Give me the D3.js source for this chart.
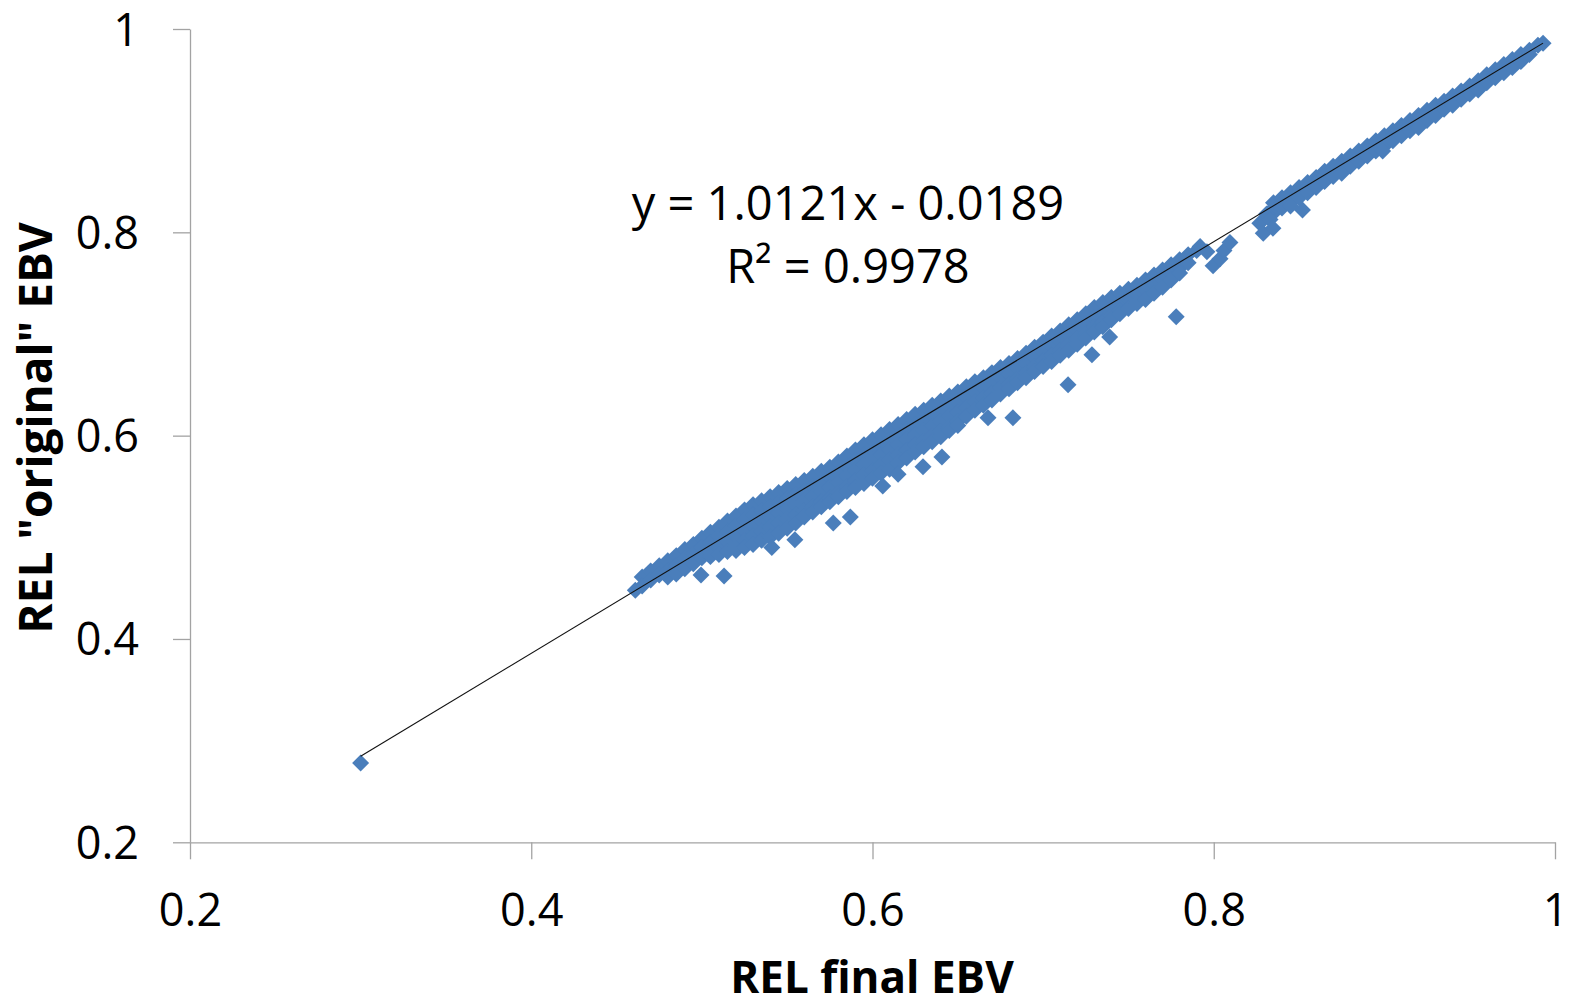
<!DOCTYPE html>
<html>
<head>
<meta charset="utf-8">
<script src="https://cdn.jsdelivr.net/npm/d3@7"></script>
<style>
  html, body { margin: 0; padding: 0; background: #ffffff; }
  svg { display: block; }
</style>
</head>
<body>
<svg id="chart" width="1577" height="1004"></svg>
<script>
// Axis ticks and titles
const tickValues = [0.2, 0.4, 0.6, 0.8, 1];
const tickLabels = ["0.2", "0.4", "0.6", "0.8", "1"];
const xTitle = "REL final EBV";
const yTitle = 'REL "original" EBV';

// Linear trend fitted to the cloud
const trendSlope = 1.0121;
const trendIntercept = -0.0189;
const equationLines = ["y = 1.0121x - 0.0189", "R\u00B2 = 0.9978"];

// Dense part of the cloud: final-EBV reliability and the original-EBV reliabilities seen at it
const bandFinal = [
  0.465, 0.470, 0.475, 0.480, 0.485, 0.490, 0.495, 0.500, 0.505, 0.510,
  0.515, 0.520, 0.525, 0.530, 0.535, 0.540, 0.545, 0.550, 0.555, 0.560,
  0.565, 0.570, 0.575, 0.580, 0.585, 0.590, 0.595, 0.600, 0.605, 0.610,
  0.615, 0.620, 0.625, 0.630, 0.635, 0.640, 0.645, 0.650, 0.655, 0.660,
  0.665, 0.670, 0.675, 0.680, 0.685, 0.690, 0.695, 0.700, 0.705, 0.710,
  0.715, 0.720, 0.725, 0.730, 0.735, 0.740, 0.745, 0.750, 0.755, 0.760,
  0.765, 0.770, 0.775, 0.780, 0.785, 0.790,
  0.835, 0.840, 0.845, 0.850, 0.855, 0.860, 0.865, 0.870, 0.875, 0.880,
  0.885, 0.890, 0.895, 0.900, 0.905, 0.910, 0.915, 0.920, 0.925, 0.930,
  0.935, 0.940, 0.945, 0.950, 0.955, 0.960, 0.965, 0.970, 0.975, 0.980,
  0.985, 0.990, 0.993
];
const bandOriginal = [
  [0.461, 0.452], [0.467, 0.458], [0.472, 0.463], [0.477, 0.467, 0.461],
  [0.482, 0.472, 0.464], [0.488, 0.479, 0.469], [0.493, 0.484, 0.474],
  [0.499, 0.490, 0.480], [0.505, 0.495, 0.485, 0.481], [0.510, 0.501, 0.491, 0.483],
  [0.516, 0.506, 0.496, 0.486], [0.521, 0.511, 0.501, 0.491, 0.487],
  [0.527, 0.517, 0.507, 0.497, 0.490], [0.532, 0.522, 0.511, 0.501, 0.493],
  [0.536, 0.526, 0.516, 0.506, 0.497], [0.540, 0.530, 0.520, 0.510, 0.500],
  [0.544, 0.534, 0.524, 0.514, 0.504], [0.548, 0.538, 0.528, 0.518, 0.509],
  [0.552, 0.542, 0.532, 0.522, 0.514], [0.556, 0.546, 0.536, 0.526, 0.520],
  [0.560, 0.550, 0.540, 0.530, 0.525], [0.565, 0.555, 0.545, 0.535, 0.530],
  [0.569, 0.559, 0.549, 0.539, 0.535], [0.574, 0.564, 0.554, 0.544, 0.540],
  [0.580, 0.570, 0.560, 0.550, 0.545], [0.586, 0.576, 0.566, 0.556, 0.549],
  [0.591, 0.581, 0.571, 0.561, 0.553], [0.596, 0.586, 0.576, 0.566, 0.558],
  [0.601, 0.591, 0.581, 0.571, 0.563], [0.606, 0.596, 0.586, 0.576, 0.567],
  [0.611, 0.601, 0.591, 0.581, 0.573], [0.616, 0.606, 0.596, 0.586, 0.578],
  [0.621, 0.611, 0.601, 0.591, 0.584], [0.625, 0.615, 0.605, 0.595, 0.589],
  [0.630, 0.620, 0.610, 0.600, 0.594], [0.634, 0.624, 0.614, 0.604, 0.599],
  [0.639, 0.629, 0.619, 0.609, 0.605], [0.643, 0.633, 0.623, 0.614, 0.610],
  [0.648, 0.638, 0.628, 0.619], [0.653, 0.643, 0.633, 0.625],
  [0.657, 0.647, 0.637, 0.630], [0.662, 0.652, 0.642, 0.635],
  [0.667, 0.657, 0.647, 0.641], [0.671, 0.661, 0.651, 0.646],
  [0.676, 0.666, 0.656, 0.652], [0.681, 0.671, 0.662, 0.657],
  [0.687, 0.677, 0.668, 0.663], [0.692, 0.682, 0.674, 0.668],
  [0.698, 0.688, 0.679, 0.673], [0.703, 0.693, 0.684, 0.679],
  [0.709, 0.699, 0.690, 0.684], [0.714, 0.704, 0.695, 0.690],
  [0.720, 0.710, 0.701, 0.696], [0.726, 0.716, 0.707, 0.702],
  [0.731, 0.721, 0.712, 0.707], [0.736, 0.726, 0.718, 0.714],
  [0.740, 0.730, 0.723, 0.720], [0.744, 0.735, 0.725],
  [0.748, 0.739, 0.730], [0.753, 0.744, 0.734], [0.758, 0.749, 0.740],
  [0.763, 0.754, 0.746], [0.768, 0.760, 0.753], [0.773, 0.765, 0.760],
  [0.778, 0.770], [0.782],
  [0.829, 0.824, 0.819], [0.834, 0.829, 0.824], [0.839, 0.834, 0.829],
  [0.844, 0.839, 0.834], [0.849, 0.844, 0.839], [0.854, 0.849, 0.844],
  [0.860, 0.855, 0.850], [0.865, 0.860, 0.855], [0.870, 0.865, 0.860],
  [0.875, 0.870, 0.865], [0.880, 0.875, 0.870], [0.885, 0.880, 0.875],
  [0.890, 0.885, 0.880], [0.895, 0.890, 0.885], [0.900, 0.895, 0.890],
  [0.905, 0.900, 0.895], [0.910, 0.905, 0.900], [0.915, 0.910, 0.905],
  [0.920, 0.915, 0.910], [0.925, 0.920, 0.915], [0.929, 0.924, 0.921],
  [0.934, 0.929, 0.926], [0.939, 0.934, 0.931], [0.944, 0.939, 0.936],
  [0.949, 0.944, 0.941], [0.955, 0.950, 0.947], [0.960, 0.955, 0.952],
  [0.965, 0.960, 0.957], [0.970, 0.965, 0.962], [0.975, 0.970, 0.968],
  [0.979, 0.975], [0.984], [0.986]
];

// Isolated animals away from the dense band [final, original]
const scatteredPoints = [
  [0.300, 0.278], [0.461, 0.448], [0.4995, 0.463], [0.513, 0.462],
  [0.541, 0.490], [0.5545, 0.4975], [0.577, 0.514], [0.587, 0.520],
  [0.606, 0.5505], [0.615, 0.562], [0.6296, 0.5695], [0.6407, 0.579],
  [0.6677, 0.6175], [0.6823, 0.6175], [0.7146, 0.650], [0.7286, 0.6796],
  [0.739, 0.697], [0.778, 0.717],
  [0.792, 0.786], [0.796, 0.781], [0.7996, 0.767], [0.8037, 0.774],
  [0.806, 0.782], [0.8095, 0.790],
  [0.827, 0.809], [0.829, 0.799], [0.831, 0.818], [0.833, 0.8125], [0.8347, 0.804],
  [0.852, 0.822],
  [0.845, 0.826], [0.875, 0.858], [0.899, 0.880], [0.920, 0.903],
  [0.940, 0.925], [0.955, 0.940]
];

// ---- layout ----
const svg = d3.select("#chart");
const plotLeft = 190, plotRight = 1555, plotTop = 29, plotBottom = 842.3;
const markerColor = "#4a7ebb";
const axisColor = "#a3a3a3";
const fontFamily = "'Open Sans', 'DejaVu Sans', sans-serif";

const x = d3.scaleLinear().domain([0.2, 1]).range([plotLeft, plotRight]);
const y = d3.scaleLinear().domain([0.2, 1]).range([plotBottom, plotTop]);

// flatten points
const points = [];
bandFinal.forEach((f, i) => bandOriginal[i].forEach(o => points.push([f, o])));
scatteredPoints.forEach(p => points.push(p));

// ---- axes ----
const fmt = d => tickLabels[tickValues.indexOf(d)];

const xAxis = svg.append("g")
  .attr("transform", `translate(0,${plotBottom})`)
  .call(d3.axisBottom(x).tickValues(tickValues).tickFormat(fmt).tickSize(17).tickSizeOuter(0).tickPadding(6));
const yAxis = svg.append("g")
  .attr("transform", `translate(${plotLeft},0)`)
  .call(d3.axisLeft(y).tickValues(tickValues).tickFormat(fmt).tickSize(17).tickSizeOuter(0).tickPadding(6));

[xAxis, yAxis].forEach(g => {
  g.selectAll("path.domain").attr("stroke", axisColor).attr("stroke-width", 1.3);
  g.selectAll(".tick line").attr("stroke", axisColor).attr("stroke-width", 1.3);
  g.selectAll(".tick text")
    .attr("fill", "#000")
    .style("font-family", fontFamily)
    .style("font-size", "45px");
});
xAxis.selectAll(".tick text").attr("dy", null).attr("y", 84);
yAxis.selectAll(".tick text").attr("dy", null).attr("x", -51).attr("y", 16);

// ---- markers ----
const diamond = d3.symbol().type(d3.symbolSquare).size(144)();
svg.append("g")
  .selectAll("path")
  .data(points)
  .join("path")
  .attr("d", diamond)
  .attr("transform", d => `translate(${x(d[0])},${y(d[1])}) rotate(45)`)
  .attr("fill", markerColor);

// ---- trend line ----
const xExt = d3.extent(points, d => d[0]);
svg.append("line")
  .attr("x1", x(xExt[0])).attr("y1", y(trendSlope * xExt[0] + trendIntercept))
  .attr("x2", x(xExt[1])).attr("y2", y(trendSlope * xExt[1] + trendIntercept))
  .attr("stroke", "#111")
  .attr("stroke-width", 1.1);

// ---- equation ----
svg.append("g")
  .selectAll("text")
  .data(equationLines)
  .join("text")
  .attr("x", 848)
  .attr("y", (d, i) => 220 + i * 63)
  .attr("text-anchor", "middle")
  .style("font-family", fontFamily)
  .style("font-size", "47px")
  .attr("fill", "#000")
  .text(d => d);

// ---- axis titles ----
svg.append("text")
  .attr("x", 872).attr("y", 993)
  .attr("text-anchor", "middle")
  .style("font-family", fontFamily)
  .style("font-size", "44px")
  .style("font-weight", "700")
  .attr("fill", "#000")
  .text(xTitle);

svg.append("text")
  .attr("transform", "translate(52,428) rotate(-90)")
  .attr("text-anchor", "middle")
  .style("font-family", fontFamily)
  .style("font-size", "46px")
  .style("font-weight", "700")
  .attr("fill", "#000")
  .text(yTitle);
</script>
</body>
</html>
